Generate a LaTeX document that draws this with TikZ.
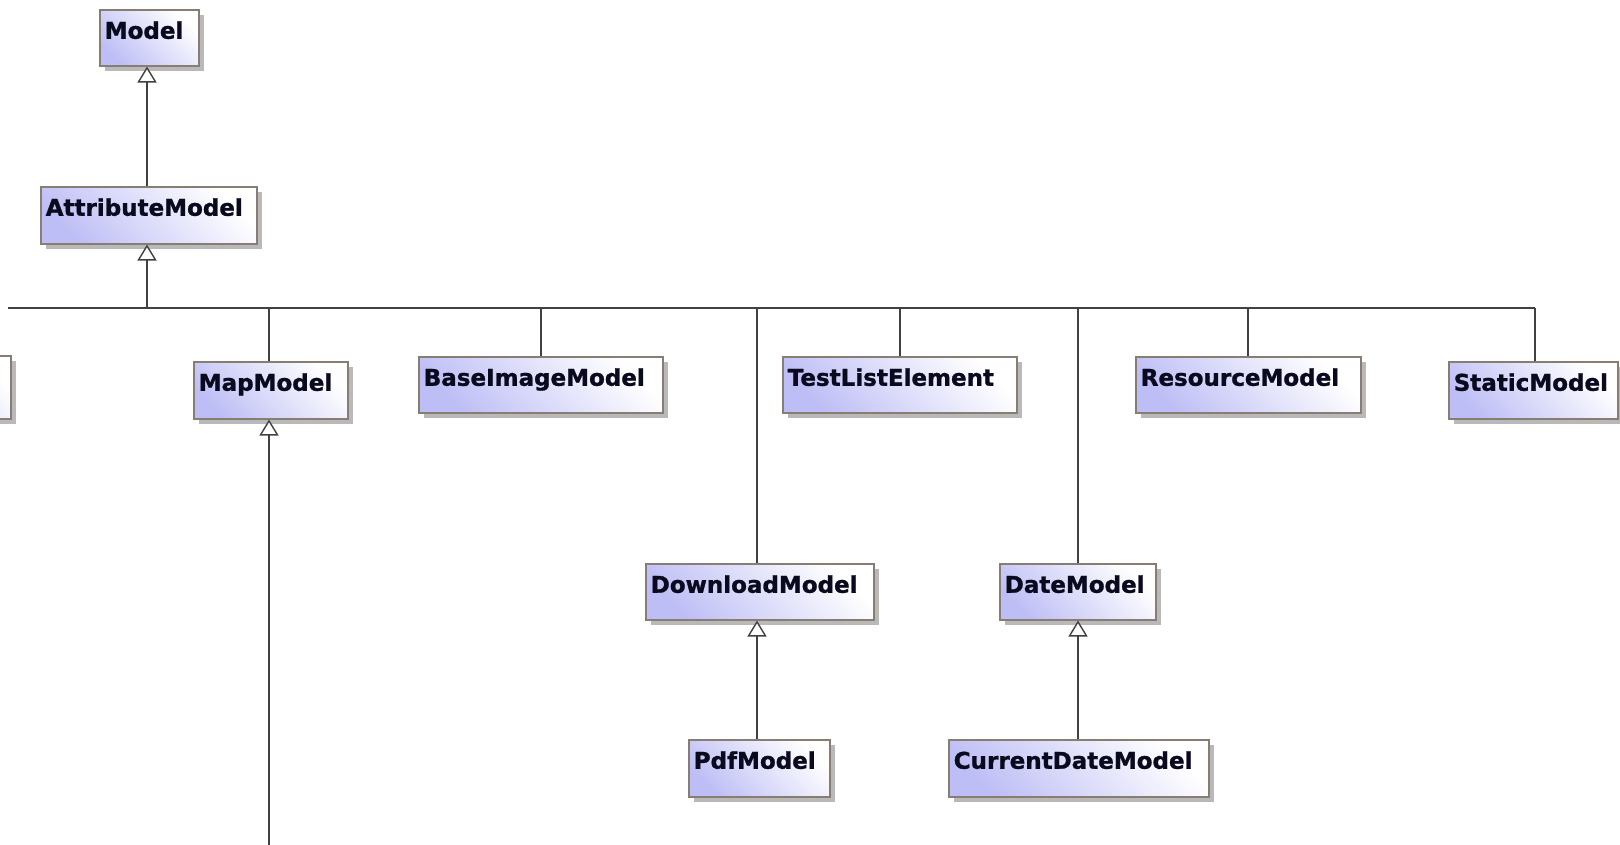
\documentclass[tikz,border=0pt]{standalone}
\usepackage{fontspec}
\newfontfamily\umlfont{DejaVu Sans Bold}[FakeBold=1.2]
\usetikzlibrary{arrows.meta,shadows}
\definecolor{lav}{RGB}{190,190,246}
\definecolor{bord}{RGB}{135,125,115}
\definecolor{shd}{RGB}{185,185,185}
\definecolor{ln}{RGB}{65,65,65}
\definecolor{txt}{RGB}{10,10,30}
\tikzset{
  cls/.style={draw=bord, line width=1.5pt, top color=white, bottom color=lav, shading angle=-45,
    drop shadow={shadow xshift=5pt, shadow yshift=-5pt, fill=shd, opacity=1},
    anchor=north west, inner xsep=5pt, inner ysep=0pt, text height=29pt, align=left,
    font=\umlfont\fontsize{23}{27}\selectfont, text=txt},
  conn/.style={draw=ln, line width=1.6pt},
  gen/.style={conn, -{Triangle[open, length=16pt, width=19pt, fill=white, line width=1.4pt]}, line join=miter},
}
\newcommand\umlbox[6]{%
  \pgfmathsetmacro\bw{#4-#2-10}%
  \pgfmathsetmacro\bd{#5-#3-29}%
  \node[cls, text width=\bw pt, text depth=\bd pt] (#1) at (#2,#3) {#6};%
}
\begin{document}
\begin{tikzpicture}[x=1pt,y=-1pt]
\useasboundingbox (0,0) rectangle (1620,844);
\clip (0,0) rectangle (1620,844);
\fill[white] (0,0) rectangle (1620,844);
\umlbox{model}{99}{9}{198}{65}{Model}
\umlbox{attr}{40}{186}{256}{243}{AttributeModel}
\umlbox{prev}{-150}{355}{10}{418}{}
\umlbox{map}{193}{361}{347}{418}{MapModel}
\umlbox{baseimg}{418}{356}{662}{412}{BaseImageModel}
\umlbox{testlist}{782}{356}{1016}{412}{TestListElement}
\umlbox{resource}{1135}{356}{1360}{412}{ResourceModel}
\umlbox{static}{1448}{361}{1617}{418}{StaticModel}
\umlbox{download}{645}{563}{873}{619}{DownloadModel}
\umlbox{pdf}{688}{739}{829}{796}{PdfModel}
\umlbox{date}{999}{563}{1155}{619}{DateModel}
\umlbox{curdate}{948}{739}{1208}{796}{CurrentDateModel}
\coordinate (busL) at (8,308);
\coordinate (busR) at (1535,308);
\coordinate (mapEnd) at (269,860);
\draw[conn] (busL) -- (busR);
\draw[gen] (attr.north -| 147,0) -- (model.south -| 147,0);
\draw[gen] (busL -| 147,0) -- (attr.south -| 147,0);
\draw[conn] (map.north -| 269,0) -- (busL -| 269,0);
\draw[conn] (baseimg.north) -- (baseimg.north |- busL);
\draw[conn] (testlist.north) -- (testlist.north |- busL);
\draw[conn] (resource.north) -- (resource.north |- busL);
\draw[conn] (static.north -| busR) -- (busR);
\draw[conn] (download.north -| 757,0) -- (busL -| 757,0);
\draw[conn] (date.north -| 1078,0) -- (busL -| 1078,0);
\draw[gen] (mapEnd) -- (map.south -| mapEnd);
\draw[gen] (pdf.north -| 757,0) -- (download.south -| 757,0);
\draw[gen] (curdate.north -| 1078,0) -- (date.south -| 1078,0);
\end{tikzpicture}
\end{document}
